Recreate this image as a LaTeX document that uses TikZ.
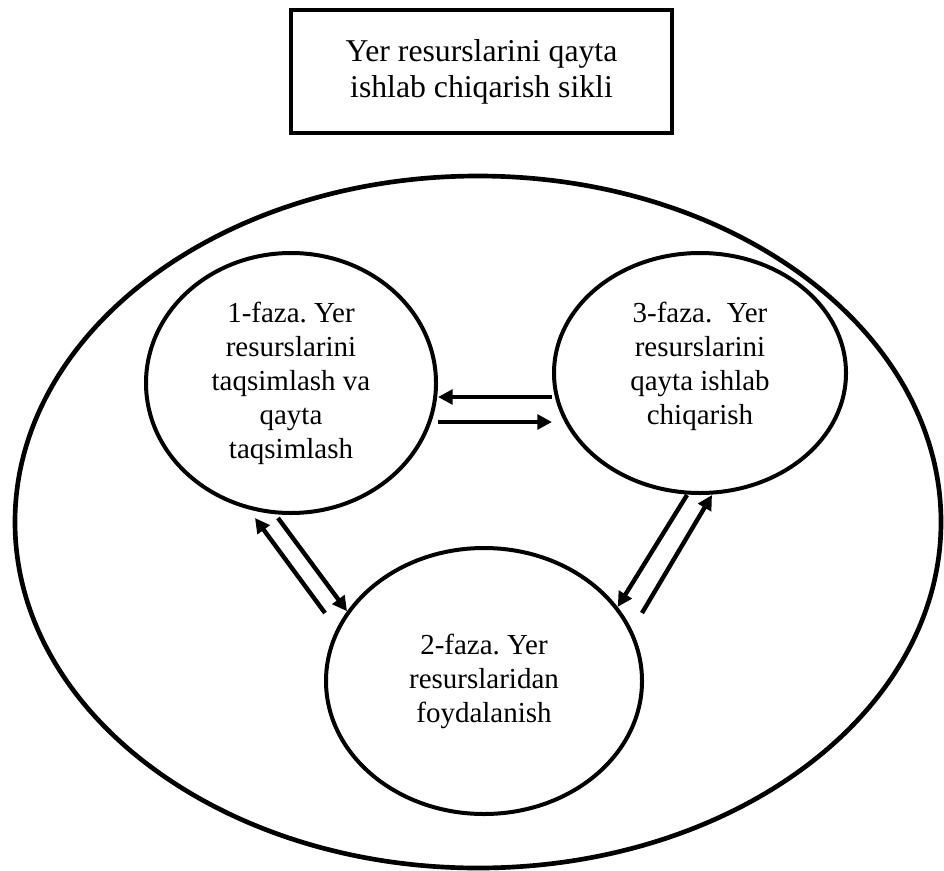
\documentclass[tikz,border=0pt]{standalone}
\usepackage{fontspec}
\setmainfont{Liberation Serif}
\usetikzlibrary{shapes.geometric, arrows.meta, calc}
\frenchspacing

\begin{document}
\begin{tikzpicture}[
      x=0.75pt, y=-0.75pt,
      titlebox/.style={rectangle, draw, line width=3pt, minimum width=285.75pt, minimum height=92.25pt, align=center, font=\fontsize{23.8}{27}\selectfont},
      cycle/.style={ellipse, draw, line width=3.5pt, minimum width=694.5pt, minimum height=519pt},
      phase/.style={ellipse, draw, line width=3pt, inner sep=0pt},
      phasetext/.style={align=center, font=\fontsize{21.75}{25.5}\selectfont},
      arrow/.style={-{Triangle[length=11pt, width=11pt]}, line width=3.3pt}
      ]
      \useasboundingbox (0,0) rectangle (944,870);

      % Title
      \node[titlebox] (title) at (481.5,71.5) {Yer resurslarini qayta\\ishlab chiqarish sikli};

      % Outer cycle
      \node[cycle] (cyc) at (478,522) {};

      % Phases
      \node[phase, minimum width=217.5pt, minimum height=195pt,
            label={[phasetext]center:{1-faza. Yer\\resurslarini\\taqsimlash va\\qayta\\taqsimlash}}] (f1) at (291,383) {};
      \node[phase, minimum width=219pt, minimum height=180pt,
            label={[phasetext, yshift=5pt]center:{3-faza.\ \ Yer\\resurslarini\\qayta ishlab\\chiqarish}}] (f3) at (700,373) {};
      \node[phase, minimum width=237pt, minimum height=199.5pt,
            label={[phasetext]center:{2-faza. Yer\\resurslaridan\\foydalanish}}] (f2) at (484,681) {};

      % Free tails
      \coordinate (t21) at (325,613);
      \coordinate (t23) at (642,613);

      % Arrows between phases
      \draw[arrow] ($(f3.west)+(0,24)$) -- ($(f1.east)+(0,14)$);
      \draw[arrow] ($(f1.east)+(0,39)$) -- ($(f3.west)+(0,49)$);
      \draw[arrow] ($(f1.south)+(-13,3)$) -- (f2.153);
      \draw[arrow] (t21) -- ($(f1.south)+(-36,3)$);
      \draw[arrow] ($(f3.south)+(-13,0)$) -- (f2.29);
      \draw[arrow] (t23) -- ($(f3.south)+(12,0)$);

   \end{tikzpicture}
\end{document}
